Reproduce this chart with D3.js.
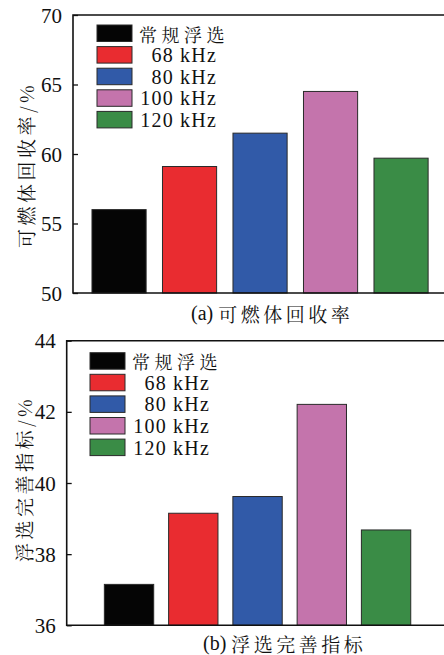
<!DOCTYPE html>
<html>
<head>
<meta charset="utf-8">
<script src="https://cdn.jsdelivr.net/npm/d3@7/dist/d3.min.js"></script>
<style>
  html, body { margin: 0; padding: 0; background: #fff; }
  svg { display: block; }
</style>
</head>
<body>
<svg id="chart" width="444" height="655"></svg>
<script>
// Series labels (legend) and colours
const seriesNames = ["常规浮选", "68 kHz", "80 kHz", "100 kHz", "120 kHz"];
const seriesColors = ["#050505", "#e92c30", "#315aa8", "#c474ac", "#3a8c46"];

// Panel (a): combustible recovery, %
const recoveryValues = [56.0, 59.1, 61.5, 64.5, 59.7];
const recoveryTicks = [50, 55, 60, 65, 70];

// Panel (b): flotation perfection index, %
const perfectionValues = [37.15, 39.15, 39.62, 42.21, 38.68];
const perfectionTicks = [36, 38, 40, 42, 44];

const SERIF = "Liberation Serif";
const CJK = "Noto Serif CJK SC";

const svg = d3.select("#chart");

function drawPanel(cfg) {
  const g = svg.append("g");
  const x = d3.scaleBand()
    .domain(seriesNames)
    .range([cfg.bandStart, cfg.bandEnd])
    .paddingInner(0.232)
    .paddingOuter(0.116);
  const y = d3.scaleLinear()
    .domain(cfg.domain)
    .range([cfg.bottom, cfg.top]);

  // bars
  g.selectAll("rect.bar")
    .data(cfg.values)
    .join("rect")
    .attr("class", "bar")
    .attr("x", (d, i) => x(seriesNames[i]))
    .attr("width", x.bandwidth())
    .attr("y", d => y(d))
    .attr("height", d => y(cfg.domain[0]) - y(d))
    .attr("fill", (d, i) => seriesColors[i])
    .attr("stroke", "#2a2a2a")
    .attr("stroke-width", 1);

  // left axis with inward ticks
  const axis = d3.axisLeft(y)
    .tickValues(cfg.ticks)
    .tickSize(-5)
    .tickPadding(11)
    .tickFormat(d3.format("d"));
  const ag = g.append("g")
    .attr("transform", `translate(${cfg.left},0)`)
    .call(axis)
    .attr("font-family", SERIF)
    .attr("font-size", 21);
  ag.select(".domain").remove();
  ag.selectAll(".tick line").attr("stroke", "#111").attr("stroke-width", 1.3);
  ag.selectAll(".tick text")
    .attr("fill", "#111")
    .attr("dy", "0.34em");

  // frame: left, top, bottom (continues past right edge)
  g.append("path")
    .attr("d", `M${444},${cfg.top}H${cfg.left}V${cfg.bottom}H${444}`)
    .attr("fill", "none")
    .attr("stroke", "#111")
    .attr("stroke-width", 1.6);

  // y-axis title
  g.append("text")
    .attr("transform", `translate(${cfg.titleX},${cfg.titleY}) rotate(-90)`)
    .attr("text-anchor", "middle")
    .attr("dominant-baseline", "central")
    .attr("font-family", CJK)
    .attr("font-size", 19)
    .attr("letter-spacing", 3.5)
    .attr("fill", "#111")
    .text(cfg.yTitle);

  // caption
  const cap = g.append("text")
    .attr("x", cfg.capX)
    .attr("y", cfg.capY)
    .attr("dominant-baseline", "central")
    .attr("fill", "#111");
  cap.append("tspan").attr("font-family", SERIF).attr("font-size", 20).text(cfg.capTag + " ");
  cap.append("tspan").attr("font-family", CJK).attr("font-size", 19).attr("letter-spacing", 3.5).text(cfg.capText);

  // legend
  const lg = g.append("g").attr("transform", `translate(${cfg.legX},${cfg.legY})`);
  seriesNames.forEach((name, i) => {
    const row = lg.append("g").attr("transform", `translate(0,${i * 21.6})`);
    row.append("rect")
      .attr("width", 35)
      .attr("height", 16.5)
      .attr("fill", seriesColors[i])
      .attr("stroke", "#2a2a2a")
      .attr("stroke-width", 1);
    const t = row.append("text")
      .attr("y", 8.5)
      .attr("dominant-baseline", "central")
      .attr("fill", "#111");
    if (i === 0) {
      t.attr("x", 42).attr("font-family", CJK).attr("font-size", 18)
        .attr("letter-spacing", 4.5).text(name);
    } else {
      t.attr("x", 120).attr("text-anchor", "end").attr("font-family", SERIF)
        .attr("font-size", 20).attr("letter-spacing", 1.2).text(name);
    }
  });
}

drawPanel({
  values: recoveryValues, ticks: recoveryTicks, domain: [50, 70],
  left: 73, top: 15, bottom: 293, bandStart: 83.8, bandEnd: 436.3,
  yTitle: "可燃体回收率/%", titleX: 25, titleY: 165,
  capTag: "(a)", capText: "可燃体回收率", capX: 191, capY: 313,
  legX: 97, legY: 25
});

drawPanel({
  values: perfectionValues, ticks: perfectionTicks, domain: [36, 44],
  left: 66.7, top: 340.7, bottom: 625.3, bandStart: 96.9, bandEnd: 418.2,
  yTitle: "浮选完善指标/%", titleX: 23, titleY: 479,
  capTag: "(b)", capText: "浮选完善指标", capX: 203, capY: 643,
  legX: 90, legY: 352.7
});
</script>
</body>
</html>
